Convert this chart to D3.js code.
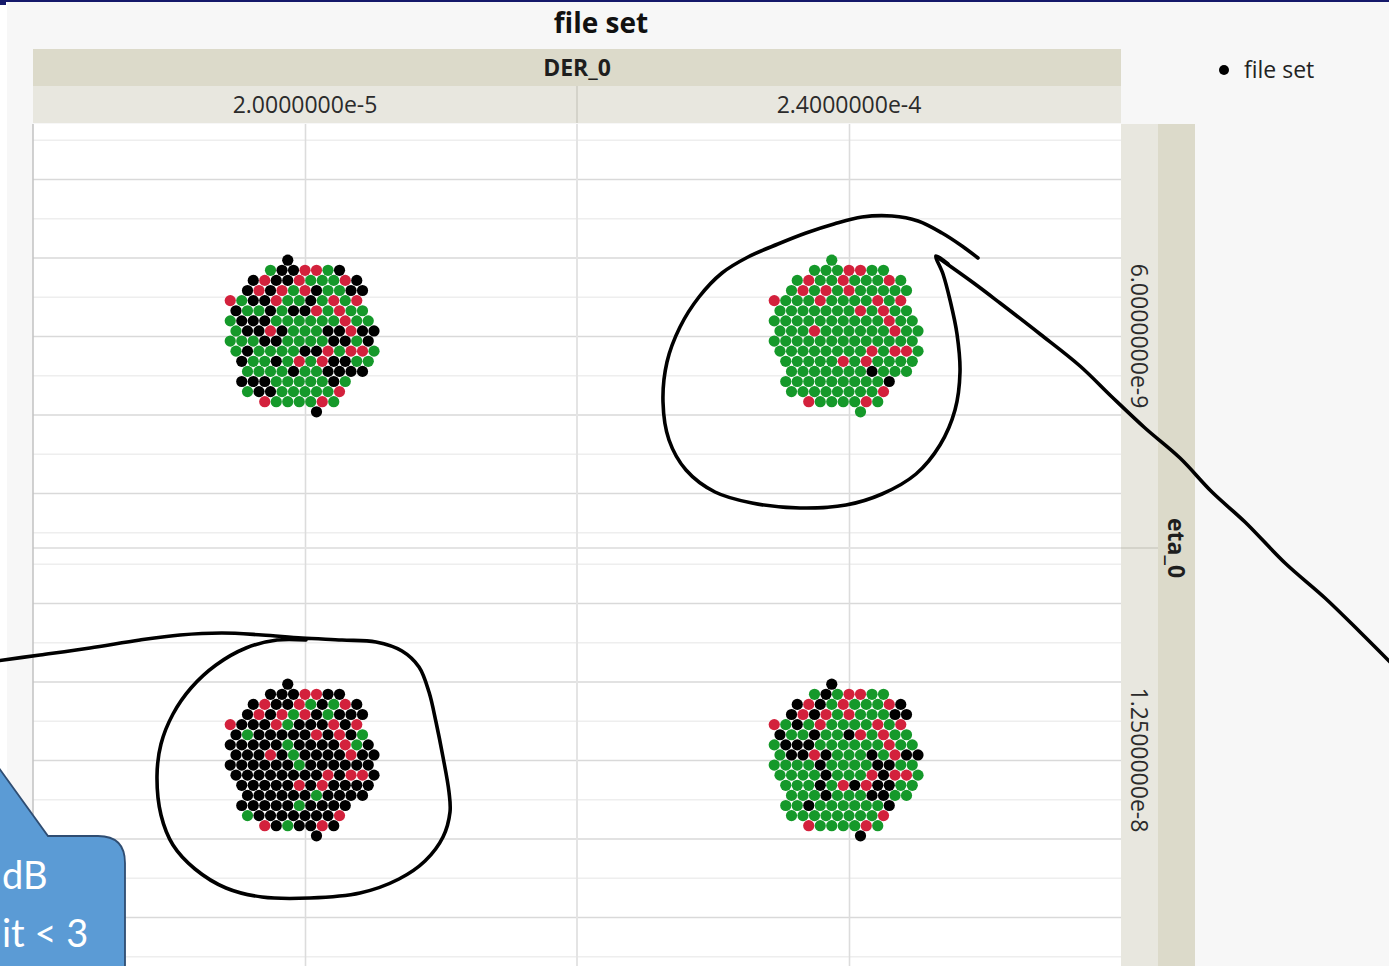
<!DOCTYPE html>
<html>
<head>
<meta charset="utf-8">
<script src="https://cdn.jsdelivr.net/npm/d3@7"></script>
<style>
  html, body { margin: 0; padding: 0; background: #f7f7f7; overflow: hidden; }
  svg { display: block; }
</style>
</head>
<body>
<svg id="chart" width="1389" height="966"></svg>
<script>
// ---- factor levels -------------------------------------------------------
const derLevels = ["2.0000000e-5", "2.4000000e-4"];
const etaLevels = ["6.0000000e-9", "1.2500000e-8"];

// ---- jittered point grid: first half-column of every row ------------------
const rowStart = [-3, -6, -9, -10, -13, -12, -13, -12, -13, -12, -11, -10, -11, -10, -7, 2];

// ---- run outcome per point, row by row (G = pass, R = fail, B = other) ---
const runsDerLoEtaLo = ["B", "GBBRRGB", "BRBBRGGGRB", "BRBRGRBGGBB", "RGBBRGGBGRGR", "BGGBGBBRGRGG",
  "GBBBGGGGGGRGG", "GBBRBGGGBBRBB", "GGGBBGGGGBBGB", "GBGGGGBBRGRRG", "BGGBGRGRBBGG",
  "GGGGBGGBBBB", "BBBGGGGGBG", "GBBGGGGGR", "RGGGGRG", "B"];
const runsDerHiEtaLo = ["G", "GGGRRGG", "GRGGRGGGRG", "GRGRGRGGGGG", "RGGGRGGGGRGR", "GGGGGGGRGRGG",
  "GGGGGGGGGGRGG", "GGGRGGGGGGRGG", "GGGGGGGGGGGGG", "GGGGGGGGRGRRG", "GGGGGRGRGGGG",
  "GGGGGGGBGGG", "GGGGGGGGGB", "GGGGGGGGR", "RGGGGRG", "G"];
const runsDerLoEtaHi = ["B", "BBBRRBB", "BRBBRGBGRB", "BRBRGRBGBBB", "RBBBRGBBBRBR", "BGBBBBBRBRBG",
  "BBBBBGBBBBRGB", "BBBRBGBBBBRBB", "BBBBBBGBBBBBB", "BBBBBBBBRBRRB", "BBBBBRBRBBBB",
  "BBBBBBGBBBB", "BBBBBGBBBB", "GBBBBBBBR", "RBGBBRB", "B"];
const runsDerHiEtaHi = ["B", "GBGRRGG", "BRBGRGGGRB", "BRBRGRGGGBB", "RGBGRGGGGRGR", "BGGBGGBRGRGG",
  "GBBBGGGGGGRGG", "GBBRBGGGBGRBB", "GGGGBGGGGBBGG", "GGGGBGGGRBRRG", "GGGBGRBRBBGG",
  "GGGBGGGBBGG", "GGBGGGGGGB", "GGGGGGGGR", "RGGGGRG", "B"];

const cells = [
  { der: derLevels[0], eta: etaLevels[0], rows: runsDerLoEtaLo },
  { der: derLevels[1], eta: etaLevels[0], rows: runsDerHiEtaLo },
  { der: derLevels[0], eta: etaLevels[1], rows: runsDerLoEtaHi },
  { der: derLevels[1], eta: etaLevels[1], rows: runsDerHiEtaHi }
];

// gridline positions inside a panel (value units)
const majorTicks = [-2, -1, 0, 1, 2];
const minorTicks = [-2.5, -1.5, -0.5, 0.5, 1.5, 2.5];

const outcomeColor = { G: "#15992a", R: "#d3213c", B: "#000000" };

// ---- layout --------------------------------------------------------------
const W = 1389, H = 966;
const plotLeft = 33, plotRight = 1121, plotTop = 124, plotBottom = 972;
const dotGap = 11.5;              // distance between neighbouring points
const rowGap = 10.11;             // distance between point rows
const dotR = 5.6;

const svg = d3.select("#chart");
const font = "'Open Sans', 'Noto Sans', sans-serif";

const xBand = d3.scaleBand().domain(derLevels).range([plotLeft, plotRight]);
const yBand = d3.scaleBand().domain(etaLevels).range([plotTop, plotBottom]);
const xIn = d3.scaleLinear().domain([-2.7, 2.7]).range([0, xBand.bandwidth()]);
const yIn = d3.scaleLinear().domain([2.7, -2.7]).range([0, yBand.bandwidth()]);

// background
svg.append("rect").attr("width", W).attr("height", H).attr("fill", "#f7f7f7");
svg.append("rect").attr("x", 0).attr("y", 0).attr("width", 7).attr("height", H).attr("fill", "#ffffff");
svg.append("rect").attr("x", 0).attr("y", 0).attr("width", W).attr("height", 2).attr("fill", "#15196a");
svg.append("rect").attr("x", 0).attr("y", 0).attr("width", 6).attr("height", 5).attr("fill", "#15196a");

// panels
const panels = [];
etaLevels.forEach(eta => derLevels.forEach(der => panels.push({ der, eta })));

const panelG = svg.selectAll("g.panel").data(panels).join("g")
  .attr("class", "panel")
  .attr("transform", d => `translate(${xBand(d.der)},${yBand(d.eta)})`);

panelG.append("rect")
  .attr("width", xBand.bandwidth()).attr("height", yBand.bandwidth())
  .attr("fill", "#ffffff");

// minor and major horizontal gridlines through the library axis
panelG.append("g").attr("class", "minor")
  .call(d3.axisLeft(yIn).tickValues(minorTicks).tickSize(-xBand.bandwidth()).tickFormat(""))
  .call(g => g.select(".domain").remove())
  .call(g => g.selectAll("line").attr("stroke", "#eeeeee").attr("stroke-width", 1.6));
panelG.append("g").attr("class", "major")
  .call(d3.axisLeft(yIn).tickValues(majorTicks).tickSize(-xBand.bandwidth()).tickFormat(""))
  .call(g => g.select(".domain").remove())
  .call(g => g.selectAll("line").attr("stroke", "#d9d9d9").attr("stroke-width", 1.6));
// vertical gridline at the level centre
panelG.append("g").attr("class", "xgrid")
  .call(d3.axisTop(xIn).tickValues([0]).tickSize(-yBand.bandwidth()).tickFormat(""))
  .call(g => g.select(".domain").remove())
  .call(g => g.selectAll("line").attr("stroke", "#dcdcdc").attr("stroke-width", 1.6));

// panel separators
svg.append("line").attr("x1", xBand(derLevels[1])).attr("x2", xBand(derLevels[1]))
  .attr("y1", plotTop).attr("y2", plotBottom).attr("stroke", "#e4e4e4").attr("stroke-width", 2);
svg.append("line").attr("x1", plotLeft).attr("x2", plotRight)
  .attr("y1", yBand(etaLevels[1])).attr("y2", yBand(etaLevels[1]))
  .attr("stroke", "#e4e4e4").attr("stroke-width", 2);
svg.append("line").attr("x1", plotLeft).attr("x2", plotLeft)
  .attr("y1", plotTop).attr("y2", plotBottom).attr("stroke", "#c2c2c2").attr("stroke-width", 1.5);

// points
const points = [];
cells.forEach(c => {
  c.rows.forEach((row, r) => {
    row.split("").forEach((code, i) => {
      points.push({ der: c.der, eta: c.eta, col: rowStart[r] + 2 * i, row: r - (c.rows.length - 1) / 2, code });
    });
  });
});
svg.append("g").selectAll("circle").data(points).join("circle")
  .attr("cx", d => xBand(d.der) + xIn(0) + d.col * dotGap / 2)
  .attr("cy", d => yBand(d.eta) + yIn(0) + d.row * rowGap)
  .attr("r", dotR)
  .attr("fill", d => outcomeColor[d.code]);

// ---- strips --------------------------------------------------------------
const stripDark = "#dcdaca", stripLight = "#e8e7df";
// top: DER_0 group strip and level strips
svg.append("rect").attr("x", plotLeft).attr("y", 49).attr("width", plotRight - plotLeft).attr("height", 37).attr("fill", stripDark);
svg.append("text").attr("x", (plotLeft + plotRight) / 2).attr("y", 76)
  .attr("text-anchor", "middle").attr("font-family", font).attr("font-weight", 700)
  .attr("font-size", 23).attr("fill", "#1e1e1e").text("DER_0");
svg.selectAll("rect.xlev").data(derLevels).join("rect").attr("class", "xlev")
  .attr("x", d => xBand(d)).attr("y", 86).attr("width", xBand.bandwidth()).attr("height", 37)
  .attr("fill", stripLight);
svg.append("line").attr("x1", xBand(derLevels[1])).attr("x2", xBand(derLevels[1]))
  .attr("y1", 86).attr("y2", 123).attr("stroke", "#d4d3ca").attr("stroke-width", 2);
svg.selectAll("text.xlev").data(derLevels).join("text").attr("class", "xlev")
  .attr("x", d => xBand(d) + xBand.bandwidth() / 2).attr("y", 113)
  .attr("text-anchor", "middle").attr("font-family", font).attr("font-size", 23)
  .attr("fill", "#2b2b2b").text(d => d);

// right: level strips and eta_0 group strip
const rx = plotRight;
svg.selectAll("rect.ylev").data(etaLevels).join("rect").attr("class", "ylev")
  .attr("x", rx).attr("y", d => yBand(d)).attr("width", 37).attr("height", yBand.bandwidth())
  .attr("fill", stripLight);
svg.append("line").attr("x1", rx).attr("x2", rx + 37)
  .attr("y1", yBand(etaLevels[1])).attr("y2", yBand(etaLevels[1]))
  .attr("stroke", "#d4d3ca").attr("stroke-width", 2);
svg.append("rect").attr("x", rx + 37).attr("y", plotTop).attr("width", 37).attr("height", plotBottom - plotTop).attr("fill", stripDark);
svg.selectAll("text.ylev").data(etaLevels).join("text").attr("class", "ylev")
  .attr("transform", d => `translate(${rx + 10},${yBand(d) + yBand.bandwidth() / 2}) rotate(90)`)
  .attr("text-anchor", "middle").attr("font-family", font).attr("font-size", 23)
  .attr("fill", "#2b2b2b").text(d => d);
svg.append("text")
  .attr("transform", `translate(${rx + 47},${yBand(etaLevels[1])}) rotate(90)`)
  .attr("text-anchor", "middle").attr("font-family", font).attr("font-weight", 700)
  .attr("font-size", 23).attr("fill", "#1e1e1e").text("eta_0");

// title
svg.append("text").attr("x", 601).attr("y", 33).attr("text-anchor", "middle")
  .attr("font-family", font).attr("font-weight", 700).attr("font-size", 28)
  .attr("fill", "#111").text("file set");

// legend
svg.append("circle").attr("cx", 1224).attr("cy", 70).attr("r", 5).attr("fill", "#000");
svg.append("text").attr("x", 1244).attr("y", 78).attr("font-family", font)
  .attr("font-size", 23).attr("fill", "#222").text("file set");

// ---- hand-drawn markup ---------------------------------------------------
const pen = d3.line().curve(d3.curveCatmullRom.alpha(0.5));
const strokes = [
  [[978, 258], [962, 246], [942, 233], [918, 221], [892, 216], [862, 217], [834, 224], [806, 233],
   [778, 244], [748, 257], [722, 273], [699, 297], [680, 327], [667, 362], [663, 402], [669, 440],
   [686, 470], [715, 492], [752, 503], [800, 508], [846, 505], [882, 494], [916, 474], [940, 445],
   [955, 410], [960, 372], [957, 334], [950, 300], [943, 274], [936, 256], [948, 264]],
  [[940, 259], [975, 284], [1000, 303], [1040, 334], [1080, 366], [1112, 397], [1145, 428],
   [1180, 458], [1212, 492], [1245, 522], [1285, 563], [1325, 598], [1360, 632], [1395, 667]],
  [[-4, 661], [40, 655], [90, 648], [140, 640], [180, 635], [222, 633], [262, 635], [302, 638],
   [342, 640], [376, 642], [402, 651], [419, 667], [429, 692], [436, 722], [443, 757], [449, 792],
   [450, 812], [443, 837], [425, 861], [399, 879], [360, 893], [310, 898], [262, 897], [226, 888],
   [195, 869], [173, 845], [161, 815], [157, 776], [161, 744], [173, 714], [191, 688], [216, 665],
   [246, 648], [277, 640], [306, 640]]
];
svg.append("g").selectAll("path").data(strokes).join("path")
  .attr("d", d => pen(d)).attr("fill", "none").attr("stroke", "#000")
  .attr("stroke-width", 3.6).attr("stroke-linecap", "round").attr("stroke-linejoin", "round");

// callout box
const callout = svg.append("g");
callout.append("path")
  .attr("d", "M -4 764 L 48 836 L 98 836 Q 125 836 125 863 L 125 972 L -4 972 Z")
  .attr("fill", "#5b9bd5").attr("stroke", "#2f4d72").attr("stroke-width", 1.8);
callout.append("text").attr("x", 2).attr("y", 889)
  .attr("font-family", "Lato, 'Open Sans', sans-serif").attr("font-size", 38)
  .attr("fill", "#ffffff").text("dB");
callout.append("text").attr("x", 2).attr("y", 947)
  .attr("font-family", "Lato, 'Open Sans', sans-serif").attr("font-size", 38)
  .attr("fill", "#ffffff").text("it < 3");
</script>
</body>
</html>
